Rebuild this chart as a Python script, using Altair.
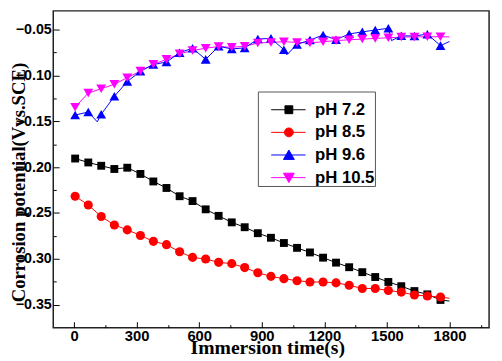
import altair as alt
import pandas as pd

# ---- data ----
series_names = ["pH 7.2", "pH 8.5", "pH 9.6", "pH 10.5"]

times = [5, 68, 130, 193, 255, 318, 380, 443, 506, 568, 631, 693, 756, 818,
         881, 944, 1006, 1069, 1131, 1194, 1256, 1319, 1382, 1444, 1507, 1569,
         1632, 1694, 1757]

ph72 = [-0.1906, -0.1949, -0.1985, -0.2020, -0.2006, -0.2074, -0.2156, -0.2227,
        -0.2317, -0.2370, -0.2460, -0.2531, -0.2602, -0.2655, -0.2720, -0.2770,
        -0.2827, -0.2880, -0.2930, -0.2987, -0.3041, -0.3091, -0.3145, -0.3198,
        -0.3252, -0.3298, -0.3351, -0.3387, -0.3448]

ph85 = [-0.2317, -0.2413, -0.2538, -0.2631, -0.2684, -0.2745, -0.2809, -0.2845,
        -0.2923, -0.2984, -0.3002, -0.3038, -0.3052, -0.3095, -0.3152, -0.3191,
        -0.3216, -0.3238, -0.3252, -0.3252, -0.3262, -0.3287, -0.3323, -0.3323,
        -0.3345, -0.3362, -0.3394, -0.3405, -0.3416]

ph96 = [-0.1432, -0.1399, -0.1424, -0.1228, -0.1067, -0.0953, -0.0882, -0.0853,
        -0.0753, -0.0703, -0.0825, -0.0682, -0.0711, -0.0700, -0.0604, -0.0595,
        -0.0720, -0.0662, -0.0614, -0.0560, -0.0610, -0.0548, -0.0525, -0.0505,
        -0.0486, -0.0568, -0.0570, -0.0550, -0.0675]

ph105 = [-0.1346, -0.1192, -0.1146, -0.1096, -0.1025, -0.0953, -0.0878, -0.0825,
         -0.0764, -0.0728, -0.0703, -0.0685, -0.0693, -0.0682, -0.0646, -0.0640,
         -0.0632, -0.0640, -0.0646, -0.0632, -0.0621, -0.0611, -0.0604, -0.0596,
         -0.0589, -0.0582, -0.0580, -0.0578, -0.0578]

# the recorded curves continue to 1800 s past the last marker
line_end_time = 1800
line_end_values = [-0.3460, -0.3430, -0.0630, -0.0580]

# extra vertices of the pH 9.6 curve between its markers
ph96_extra_times = [111, 1020, 1522]
ph96_extra_values = [-0.1506, -0.0775, -0.0620]

x_major = [0, 300, 600, 900, 1200, 1500, 1800]
x_minor = [150, 450, 750, 1050, 1350, 1650, 1950]
y_major = [-0.35, -0.30, -0.25, -0.20, -0.15, -0.10, -0.05]
y_minor = [-0.325, -0.275, -0.225, -0.175, -0.125, -0.075]

# ---- styles ----
colors = ["#000000", "#ff0000", "#0000ff", "#ff00ff"]
marker_shape = {"pH 7.2": "square", "pH 8.5": "circle",
                "pH 9.6": "triangle-up", "pH 10.5": "triangle-down"}
marker_size = {"pH 7.2": 64, "pH 8.5": 86, "pH 9.6": 100, "pH 10.5": 100}
legend_paths = [
    "M1,0H8M3.8,-0.8H5.4V0.8H3.8Z",
    "M1,0H8M3.7,0A0.9,0.9,0,1,1,5.5,0A0.9,0.9,0,1,1,3.7,0Z",
    "M1,0H8M4.6,-1L5.7,0.9L3.5,0.9Z",
    "M1,0H8M4.6,1L5.7,-0.9L3.5,-0.9Z",
]

W, H = 443, 322
SANS = "Liberation Sans"
SERIF = "Liberation Serif"

# ---- tables ----
rows = []
for k, (name, vals) in enumerate(zip(series_names, [ph72, ph85, ph96, ph105])):
    for t, v in zip(times, vals):
        rows.append({"series": name, "t": t, "v": v, "k": k})
pts = pd.DataFrame(rows)
pts["shape"] = pts["series"].map(marker_shape)
pts["size"] = pts["series"].map(marker_size)

line_rows = [dict(r) for r in rows]
for name, v in zip(series_names, line_end_values):
    line_rows.append({"series": name, "t": line_end_time, "v": v})
for t, v in zip(ph96_extra_times, ph96_extra_values):
    line_rows.append({"series": "pH 9.6", "t": t, "v": v})
lines = pd.DataFrame(line_rows).sort_values(["series", "t"])

xs = alt.Scale(domain=[-100, 1990], nice=False, zero=False)
ys = alt.Scale(domain=[-0.375, -0.0296], nice=False, zero=False)
col_scale = alt.Scale(domain=series_names, range=colors)

x_main = alt.Axis(values=x_major, format="d", ticks=False, domain=False, grid=False,
                  labelFont=SANS, labelFontSize=15, labelFontWeight="bold",
                  labelColor="black", labelPadding=1, labelFlush=False,
                  title="Immersion time(s)", titleFont=SERIF, titleFontSize=20,
                  titleFontWeight="bold", titleColor="black", titleX=217.5,
                  titleY=26, titleBaseline="alphabetic", titleAlign="center")
y_main = alt.Axis(values=y_major, format=".2f", ticks=False, domain=False, grid=False,
                  labelFont=SANS, labelFontSize=14.5, labelFontWeight="bold",
                  labelColor="black", labelPadding=2, labelFlush=False,
                  title="Corrosion potential(Vvs.SCE)", titleFont=SERIF,
                  titleFontSize=19, titleFontWeight="bold", titleColor="black",
                  titleAngle=270, titleX=-29, titleY=174,
                  titleBaseline="alphabetic", titleAlign="center")


def tick_axis(orient, offset, values, size):
    return alt.Axis(orient=orient, offset=offset, values=values, tickSize=size,
                    tickColor="black", tickWidth=1, labels=False, domain=False,
                    grid=False, title=None)


base = alt.Chart(pts)

line_layer = alt.Chart(lines).mark_line(strokeWidth=1).encode(
    x=alt.X("t:Q", scale=xs, axis=None),
    y=alt.Y("v:Q", scale=ys, axis=None),
    color=alt.Color("series:N", scale=col_scale, legend=None),
    order=alt.Order("t:Q"),
)

point_layer = base.mark_point(filled=True, opacity=1).encode(
    x=alt.X("t:Q", scale=xs, axis=x_main),
    y=alt.Y("v:Q", scale=ys, axis=y_main),
    color=alt.Color("series:N", scale=col_scale, legend=None),
    shape=alt.Shape("shape:N", scale=None),
    size=alt.Size("size:Q", scale=None),
    order=alt.Order("k:Q"),
)

leg = alt.Legend(title=" ", titleFontSize=10, titlePadding=0, orient="none",
                 legendX=208, legendY=82, direction="vertical", padding=0,
                 symbolSize=100, symbolStrokeWidth=1, symbolOpacity=1,
                 labelFont=SANS, labelFontSize=17, labelFontWeight="bold",
                 labelColor="black", labelOffset=41, rowPadding=5.0,
                 strokeColor="#555555", fillColor="white")

legend_layer = base.mark_point(filled=True, opacity=0).encode(
    x=alt.X("t:Q", scale=xs, axis=None),
    y=alt.Y("v:Q", scale=ys, axis=None),
    fill=alt.Fill("series:N", scale=alt.Scale(domain=series_names, range=colors), legend=leg),
    stroke=alt.Stroke("series:N", scale=alt.Scale(domain=series_names, range=colors), legend=leg),
    shape=alt.Shape("series:N", scale=alt.Scale(domain=series_names, range=legend_paths), legend=leg),
)

tx_major = base.mark_point(opacity=0).encode(
    x=alt.X("t:Q", scale=xs, axis=tick_axis("top", -H, x_major, 6)),
    y=alt.Y("v:Q", scale=ys, axis=None))
tx_minor = base.mark_point(opacity=0).encode(
    x=alt.X("t:Q", scale=xs, axis=tick_axis("top", -H, x_minor, 3)),
    y=alt.Y("v:Q", scale=ys, axis=None))
ty_major = base.mark_point(opacity=0).encode(
    x=alt.X("t:Q", scale=xs, axis=None),
    y=alt.Y("v:Q", scale=ys, axis=tick_axis("right", -W, y_major, 6)))
ty_minor = base.mark_point(opacity=0).encode(
    x=alt.X("t:Q", scale=xs, axis=None),
    y=alt.Y("v:Q", scale=ys, axis=tick_axis("right", -W, y_minor, 3)))

chart = alt.layer(
    legend_layer, tx_major, tx_minor, ty_major, ty_minor, line_layer, point_layer
).resolve_axis(
    x="independent", y="independent"
).properties(
    width=W, height=H,
    autosize=alt.AutoSizeParams(type="none"),
    padding={"left": 46, "top": 0, "right": 5, "bottom": 32},
    background="white",
).configure_view(
    stroke="#222222", strokeWidth=1.5
)

chart.save("out.html", embed_options={"renderer": "svg", "actions": False})
